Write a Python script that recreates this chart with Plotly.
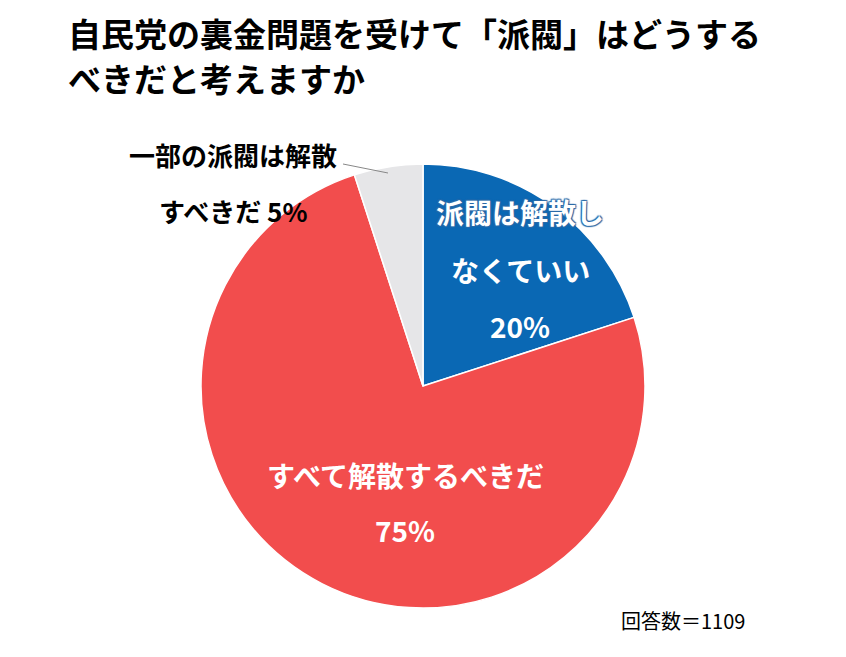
import plotly.graph_objects as go

labels = ["派閥は解散し<br>なくていい", "すべて解散するべきだ", "一部の派閥は解散<br>すべきだ"]
values = [20, 75, 5]
colors = ["#0a68b4", "#f24d4d", "#e6e6e8"]

W, H = 846, 657
fig = go.Figure(go.Pie(
    labels=labels, values=values, sort=False, direction="clockwise", rotation=0,
    marker=dict(colors=colors, line=dict(color="white", width=1.5)),
    textinfo="none", hoverinfo="label+percent",
    domain=dict(x=[192/W, 638/W], y=[(H-600)/H, (H-156)/H]),
))
F = "Noto Sans CJK JP"
def px(x, y):
    return x / W, 1 - y / H
ann = []
def add(x, y, t, size=28, color="white", xanchor="center", shadow="none"):
    ax, ay = px(x, y)
    ann.append(dict(x=ax, y=ay, xref="paper", yref="paper", text="<b>"+t+"</b>", showarrow=False,
                    font=dict(family=F, size=size, color=color, shadow=shadow), xanchor=xanchor, yanchor="middle"))
sh = "1px 1px 1px #2a6aa8, -1px -1px 1px #2a6aa8, 1px -1px 1px #2a6aa8, -1px 1px 1px #2a6aa8"
add(512, 204, "派閥は解散し", shadow=sh)
add(512, 262, "なくていい")
add(512, 318, f"{values[0]}%")
add(397, 467, "すべて解散するべきだ")
add(397, 522, f"{values[1]}%")
add(225, 146, "一部の派閥は解散", color="black", size=26)
add(225, 203, f"すべきだ {values[2]}%", color="black", size=26)
ax, ay = px(58, 25); ann.append(dict(x=ax, y=ay, xref="paper", yref="paper", xanchor="left", yanchor="middle", showarrow=False,
    text="<b>自民党の裏金問題を受けて「派閥」はどうする</b>", font=dict(family=F, size=33, color="black")))
ax, ay = px(58, 70); ann.append(dict(x=ax, y=ay, xref="paper", yref="paper", xanchor="left", yanchor="middle", showarrow=False,
    text="<b>べきだと考えますか</b>", font=dict(family=F, size=33, color="black")))
ax, ay = px(675, 612); ann.append(dict(x=ax, y=ay, xref="paper", yref="paper", xanchor="center", yanchor="middle", showarrow=False,
    text="回答数＝1109", font=dict(family=F, size=20, color="black")))
x0, y0 = px(335, 156); x1, y1 = px(380, 165)
fig.update_layout(
    width=W, height=H, margin=dict(l=0, r=0, t=0, b=0), showlegend=False,
    paper_bgcolor="white", annotations=ann,
    shapes=[dict(type="line", xref="paper", yref="paper", x0=x0, y0=y0, x1=x1, y1=y1, line=dict(color="#888", width=1))],
)
fig.write_html("out.html")
